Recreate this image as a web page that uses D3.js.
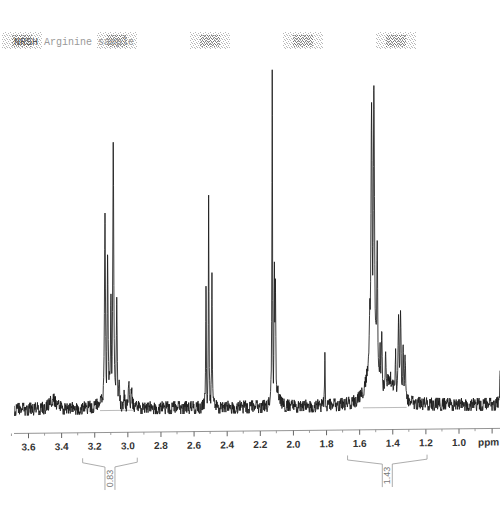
<!DOCTYPE html>
<html><head><meta charset="utf-8">
<script src="https://cdn.jsdelivr.net/npm/d3@7"></script>
<style>body{margin:0;background:#fff}svg{display:block}</style>
</head><body>
<svg id="c" width="500" height="519"></svg>
<script>
// ---- data ----
const xTicks = [3.6,3.4,3.2,3.0,2.8,2.6,2.4,2.2,2.0,1.8,1.6,1.4,1.2,1.0,0.8];
const xTickLabels = ["3.6","3.4","3.2","3.0","2.8","2.6","2.4","2.2","2.0","1.8","1.6","1.4","1.2","1.0","ppm"];
const minorTicks = [3.7,3.5,3.3,3.1,2.9,2.7,2.5,2.3,2.1,1.9,1.7,1.5,1.3,1.1,0.9];

// peak positions (ppm), heights (relative intensity), half widths (ppm)
const peakPpm    = [3.45,3.135,3.119,3.099,3.085,3.064,3.11,3.05,3.02,2.99,2.975,
                    2.525,2.509,2.489,2.125,2.112,2.106,2.095,1.807,
                    1.535,1.525,1.511,1.515,1.491,1.474,1.464,1.440,1.410,1.380,1.362,1.350,1.334,1.323,1.42,0.748];
const peakHeight = [3,58,45,34,79,33,10,8,4,8,5,
                    36,63,40,100,43,38,6,16,
                    30,90,95,38,49,18,22,16,10,15,27,28,18,15,8,10];
const peakWidth  = [0.02,0.0035,0.0035,0.0035,0.0035,0.0035,0.025,0.004,0.005,0.004,0.005,
                    0.002,0.002,0.002,0.002,0.003,0.003,0.012,0.002,
                    0.006,0.005,0.005,0.022,0.004,0.004,0.004,0.004,0.004,0.004,0.004,0.004,0.004,0.004,0.05,0.003];

// hand-typed baseline noise digits (0-9)
const noiseDigits = "47153829603718462509381746205839172640851396270481539264718305947261850394162783059417263850194736281504938271640593827164059382716405937281649057382619405738261940573826194057312846950273816495027381649503728164950372816";

const titleDark = "NRSH";
const titleLight = " Arginine sample";
const blotchX = [22,117,210,303,396];

const integralFrom = [3.27,1.67];
const integralTo   = [2.94,1.19];
const integralBaseFrom = [3.165,1.577];
const integralBaseTo   = [2.954,1.313];
const integralLabels = ["0.83","1.43"];

// ---- drawing ----
const svg = d3.select("#c");
svg.append("rect").attr("width",500).attr("height",519).attr("fill","#fff");

const x = d3.scaleLinear().domain([3.6,1.0]).range([28,458.5]);
const y = d3.scaleLinear().domain([0,100]).range([407,70]);

const defs = svg.append("defs");
defs.append("clipPath").attr("id","clip")
  .append("rect").attr("x",14).attr("y",0).attr("width",486).attr("height",519);
// speckle textures for the smudged header marks
const pl = defs.append("pattern").attr("id","speckL").attr("patternUnits","userSpaceOnUse").attr("width",5).attr("height",4);
[[0,0],[3,1],[1,2],[4,3],[2,3]].forEach(([a,b]) => pl.append("rect").attr("x",a).attr("y",b).attr("width",1).attr("height",1).attr("fill","#999"));
const pd = defs.append("pattern").attr("id","speckD").attr("patternUnits","userSpaceOnUse").attr("width",4).attr("height",3);
[[0,0],[2,1],[1,2],[3,2]].forEach(([a,b]) => pd.append("rect").attr("x",a).attr("y",b).attr("width",1).attr("height",1).attr("fill","#555"));

// slight downward-left slope of the photographed page
const g = svg.append("g").attr("transform","translate(0,2.62) skewY(-0.6)");

// build spectrum samples
const p0 = x.invert(10), p1 = x.invert(503);
const N = 1400;
const samples = [];
for (let i = 0; i <= N; i++) {
  const p = p0 + (p1 - p0) * i / N;
  const d = +noiseDigits[(i * 7) % noiseDigits.length];
  samples.push({p, n: (d - 4.5) * 0.42});
}
peakPpm.forEach(p => samples.push({p, n: 0}));
samples.sort((a,b) => b.p - a.p);
samples.forEach(s => {
  let v = 0;
  for (let k = 0; k < peakPpm.length; k++) {
    const t = (s.p - peakPpm[k]) / peakWidth[k];
    v = Math.max(v, peakHeight[k] / (1 + t*t));
  }
  s.v = v + s.n;
});

// integration baselines
g.selectAll(".ib").data(integralBaseFrom).enter().append("line")
  .attr("x1", d => x(d)).attr("x2", (d,i) => x(integralBaseTo[i]))
  .attr("y1", y(-0.6)).attr("y2", y(-0.6))
  .attr("stroke","#aaa").attr("stroke-width",0.8);

// spectrum
g.append("path").datum(samples)
  .attr("clip-path","url(#clip)")
  .attr("d", d3.line().x(d => x(d.p)).y(d => y(d.v)))
  .attr("fill","none").attr("stroke","#1a1a1a").attr("stroke-width",0.85);

// axis
const axG = g.append("g").attr("transform","translate(0,431)");
axG.append("line").attr("x1",14).attr("x2",500).attr("stroke","#888").attr("stroke-width",0.9);
axG.call(d3.axisBottom(x).tickValues(xTicks).tickFormat((d,i) => xTickLabels[i]).tickSize(5).tickPadding(5))
  .call(a => a.select(".domain").remove())
  .call(a => a.selectAll(".tick line").attr("stroke","#666"))
  .call(a => a.selectAll(".tick text").attr("fill","#333").attr("font-family","Liberation Sans, Arial, sans-serif")
        .attr("font-size",10).attr("font-weight","bold"));
axG.selectAll(".tick text").filter((d,i) => xTickLabels[i] === "ppm")
  .attr("text-anchor","start").attr("dx",-14);
axG.selectAll(".minor").data(minorTicks).enter().append("line")
  .attr("x1", d => x(d)).attr("x2", d => x(d)).attr("y1",0).attr("y2",2.5)
  .attr("stroke","#888").attr("stroke-width",0.8);

// integral brackets
integralFrom.forEach((a,i) => {
  const xl = x(a), xr = x(integralTo[i]), cx = (xl + xr) / 2;
  g.append("path")
    .attr("d", `M${xl},456.5L${xl},461L${cx-5},465.5L${cx-5},488.5M${cx+5},488.5L${cx+5},465.5L${xr},461L${xr},456.5`)
    .attr("fill","none").attr("stroke","#999").attr("stroke-width",0.8);
  g.append("text").attr("transform",`translate(${cx},477) rotate(-90)`)
    .attr("text-anchor","middle").attr("dominant-baseline","central")
    .attr("font-family","Liberation Sans, Arial, sans-serif").attr("font-size",9)
    .attr("fill","#777").text(integralLabels[i]);
});

// smudged header marks (non-text texture)
svg.selectAll(".blL").data(blotchX).enter().append("rect")
  .attr("x", d => d - 20).attr("y",32).attr("width",40).attr("height",17)
  .attr("fill","url(#speckL)").attr("opacity",0.7);
svg.selectAll(".blD").data(blotchX).enter().append("rect")
  .attr("x", d => d - 10).attr("y",35).attr("width",20).attr("height",12)
  .attr("fill","url(#speckD)").attr("opacity",0.7);

// title
const tt = svg.append("text").attr("x",14).attr("y",45)
  .attr("font-family","Liberation Mono, Courier New, monospace").attr("font-size",10);
tt.append("tspan").attr("fill","#555").text(titleDark);
tt.append("tspan").attr("fill","#999").text(titleLight);
</script>
</body></html>
